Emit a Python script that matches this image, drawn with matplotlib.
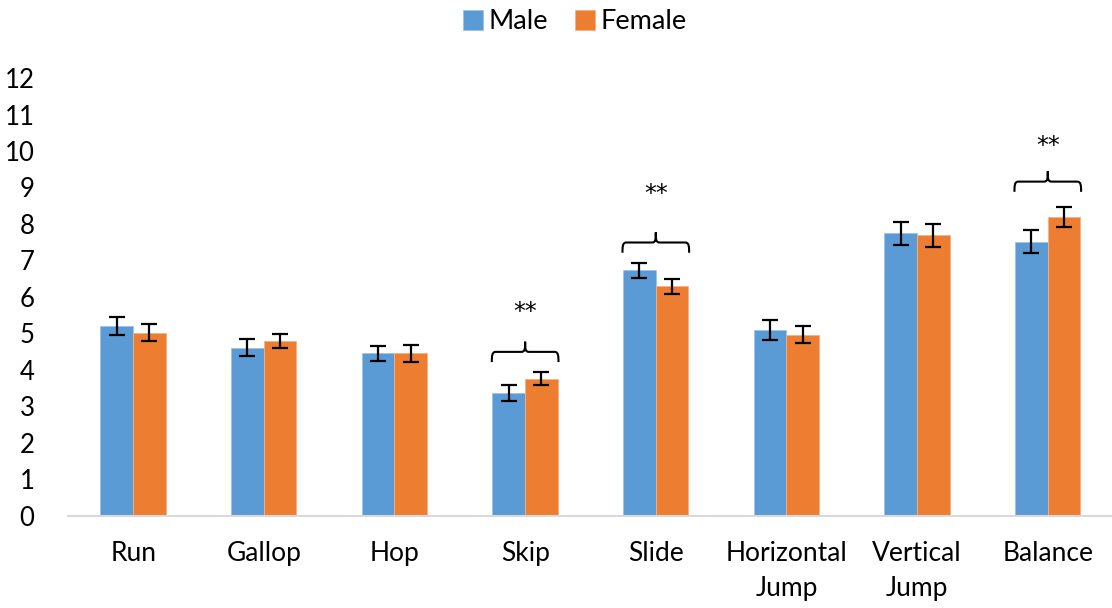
import numpy as np
import matplotlib.pyplot as plt
from matplotlib.path import Path
from matplotlib.patches import PathPatch

plt.rcParams['font.family'] = ['Lato', 'DejaVu Sans']

# motor skill scores by sex
skills = ["Run", "Gallop", "Hop", "Skip", "Slide", "Horizontal\nJump", "Vertical\nJump", "Balance"]
male = [5.21, 4.61, 4.45, 3.36, 6.73, 5.09, 7.74, 7.51]
female = [5.02, 4.79, 4.45, 3.75, 6.29, 4.96, 7.69, 8.18]
male_err = [0.25, 0.24, 0.21, 0.23, 0.20, 0.27, 0.32, 0.31]
female_err = [0.24, 0.20, 0.23, 0.18, 0.21, 0.24, 0.32, 0.27]

# significant differences: skill index, bracket height, star height
sig_idx = [3, 4, 7]
sig_bracket = [4.49, 7.49, 9.16]
sig_star = [5.59, 8.82, 10.14]

blue = "#5B9BD5"
orange = "#ED7D31"

fig = plt.figure(figsize=(11.12, 6.08), dpi=100)
ax = fig.add_axes([0.061, 0.152, 0.94, 0.7196])

x = np.arange(len(skills))
w = 0.25
err_kw = dict(ecolor="black", elinewidth=1.6, capsize=6, capthick=1.6)
ax.bar(x - w / 2, male, w, yerr=male_err, color=blue, label="Male", error_kw=err_kw,
       edgecolor="#9DC3E6", linewidth=0.6)
ax.bar(x + w / 2, female, w, yerr=female_err, color=orange, label="Female", error_kw=err_kw,
       edgecolor="#F4B183", linewidth=0.6)


def brace(ax, xc, y, half=0.255, drop=0.28, peak=0.28):
    # curly bracket opening downwards over a pair of bars
    r = 0.03
    x0, x1 = xc - half, xc + half
    verts = [
        (x0, y - drop), (x0, y - r * 4), (x0, y), (x0 + r, y),
        (xc - r, y), (xc, y), (xc, y + peak * 0.3), (xc, y + peak),
        (xc, y + peak * 0.3), (xc, y), (xc + r, y),
        (x1 - r, y), (x1, y), (x1, y - r * 4), (x1, y - drop),
    ]
    codes = [Path.MOVETO, Path.CURVE4, Path.CURVE4, Path.CURVE4,
             Path.LINETO, Path.CURVE4, Path.CURVE4, Path.CURVE4,
             Path.CURVE4, Path.CURVE4, Path.CURVE4,
             Path.LINETO, Path.CURVE4, Path.CURVE4, Path.CURVE4]
    ax.add_patch(PathPatch(Path(verts, codes), fill=False, lw=1.5, color="black"))


for i, yb, ys in zip(sig_idx, sig_bracket, sig_star):
    brace(ax, x[i], yb)
    ax.text(x[i], ys, "**", ha="center", va="center", fontsize=17, family="DejaVu Sans")

ax.set_xlim(-0.5, len(skills) - 0.5)
ax.set_ylim(0, 12)
ax.set_yticks(range(0, 13))
ax.set_xticks(x)
ax.set_xticklabels(skills, fontsize=19, linespacing=1.5)
ax.tick_params(axis="y", length=0, pad=24, labelsize=18.5)
ax.tick_params(axis="x", length=0, pad=18)
for s in ["top", "right", "left"]:
    ax.spines[s].set_visible(False)
ax.spines["bottom"].set_color("#D9D9D9")
ax.spines["bottom"].set_linewidth(1.5)

fig.legend(loc="upper center", bbox_to_anchor=(0.517, 1.025), ncol=2, frameon=False,
           fontsize=19.5, handlelength=0.75, handleheight=0.75, handletextpad=0.2,
           columnspacing=1.0)

fig.savefig("out.png", dpi=100)
